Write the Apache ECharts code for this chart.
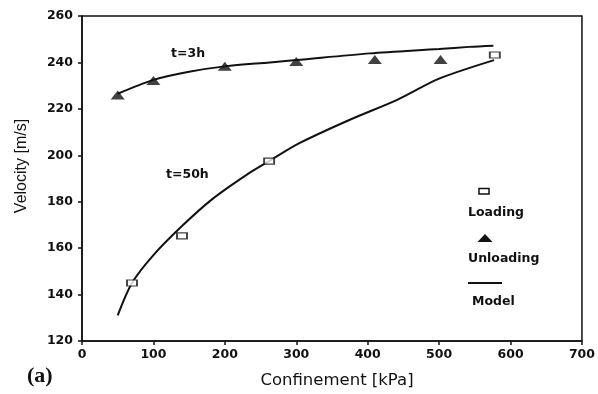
<!DOCTYPE html>
<html>
<head>
<meta charset="utf-8">
<script src="https://cdn.jsdelivr.net/npm/echarts@6/dist/echarts.min.js"></script>
<style>
  html, body { margin: 0; padding: 0; background: #fff; }
  #chart { width: 598px; height: 394px; }
</style>
</head>
<body>
<div id="chart"></div>
<script>
// Measured loading points (t = 50 h)
const loadingX = [70, 140, 262, 578];
const loadingY = [145, 165.3, 197.5, 243.2];

// Measured unloading points (t = 3 h)
const unloadingX = [50, 100, 200, 300, 410, 502];
const unloadingY = [226, 232.2, 238.4, 240.4, 241.3, 241.3];

// Model curve, t = 3 h
const model3hX = [50, 100, 150, 200, 263, 300, 403, 500, 542, 576];
const model3hY = [226.5, 232.5, 236, 238.3, 240, 241, 243.9, 245.8, 246.7, 247.2];

// Model curve, t = 50 h
const model50hX = [50, 70, 100, 140, 182, 235, 262, 305, 375, 442, 500, 577];
const model50hY = [131, 145, 157, 169.5, 181, 192.5, 197.5, 205.3, 215.3, 224, 233, 241];

const xTicks = [0, 100, 200, 300, 400, 500, 600, 700];
const yTicks = [120, 140, 160, 180, 200, 220, 240, 260];

const pairs = (xs, ys) => xs.map((x, i) => [x, ys[i]]);

const chart = echarts.init(document.getElementById('chart'), null, { renderer: 'canvas' });

const tickFont = { fontFamily: 'DejaVu Sans', fontWeight: 'bold', fontSize: 12.5, color: '#111' };
const boldLabel = 'bold 12.5px "DejaVu Sans"';

chart.setOption({
  animation: false,
  backgroundColor: '#fff',
  grid: { left: 82, right: 15, top: 16, bottom: 53, show: true, borderColor: '#111', borderWidth: 1.5, backgroundColor: 'transparent' },
  xAxis: {
    type: 'value', min: xTicks[0], max: xTicks[xTicks.length - 1], interval: 100,
    axisLine: { show: true, lineStyle: { color: '#111', width: 1.5 } },
    axisTick: { show: true, length: 4, lineStyle: { color: '#111', width: 1.5 } },
    axisLabel: Object.assign({ margin: 7 }, tickFont),
    splitLine: { show: false }
  },
  yAxis: {
    type: 'value', min: yTicks[0], max: yTicks[yTicks.length - 1], interval: 20,
    axisLine: { show: true, lineStyle: { color: '#111', width: 1.5 } },
    axisTick: { show: true, length: 4, lineStyle: { color: '#111', width: 1.5 } },
    axisLabel: Object.assign({ margin: 9 }, tickFont),
    splitLine: { show: false }
  },
  series: [
    {
      name: 'Model 3h', type: 'line', smooth: 0.3, showSymbol: false,
      data: pairs(model3hX, model3hY),
      lineStyle: { color: '#111', width: 2 }, z: 2
    },
    {
      name: 'Model 50h', type: 'line', smooth: 0.3, showSymbol: false,
      data: pairs(model50hX, model50hY),
      lineStyle: { color: '#111', width: 2 }, z: 2
    },
    {
      name: 'Unloading', type: 'scatter',
      data: pairs(unloadingX, unloadingY),
      symbol: 'triangle', symbolSize: [14, 9],
      itemStyle: { color: '#111' }, z: 3
    },
    {
      name: 'Loading', type: 'scatter',
      data: pairs(loadingX, loadingY),
      symbol: 'rect', symbolSize: [10, 6],
      itemStyle: { color: '#fff', borderColor: '#111', borderWidth: 1.5 }, z: 3
    }
  ],
  graphic: [
    // axis titles
    { type: 'text', x: 22, y: 166, rotation: Math.PI / 2,
      style: { text: 'Velocity [m/s]', font: '16px "Liberation Sans"', fill: '#111', align: 'center', verticalAlign: 'middle' } },
    { type: 'text', x: 337, y: 381,
      style: { text: 'Confinement [kPa]', font: '16.5px "DejaVu Sans"', fill: '#111', align: 'center', verticalAlign: 'middle' } },
    // curve annotations
    { type: 'text', left: 171, top: 47, style: { text: 't=3h', font: boldLabel, fill: '#111' } },
    { type: 'text', left: 166, top: 168, style: { text: 't=50h', font: boldLabel, fill: '#111' } },
    // legend
    { type: 'rect', shape: { x: 479, y: 188.5, width: 10, height: 5.5 }, style: { fill: '#fff', stroke: '#111', lineWidth: 1.5 } },
    { type: 'text', left: 468, top: 206, style: { text: 'Loading', font: boldLabel, fill: '#111' } },
    { type: 'polygon', shape: { points: [[485, 234], [477.5, 242], [492.5, 242]] }, style: { fill: '#111' } },
    { type: 'text', left: 468, top: 252, style: { text: 'Unloading', font: boldLabel, fill: '#111' } },
    { type: 'line', shape: { x1: 468, y1: 283, x2: 502, y2: 283 }, style: { stroke: '#111', lineWidth: 2 } },
    { type: 'text', left: 472, top: 295, style: { text: 'Model', font: boldLabel, fill: '#111' } },
    // panel tag
    { type: 'text', left: 27, top: 365, style: { text: '(a)', font: 'bold 22px "Liberation Serif"', fill: '#111' } }
  ]
});
</script>
</body>
</html>
